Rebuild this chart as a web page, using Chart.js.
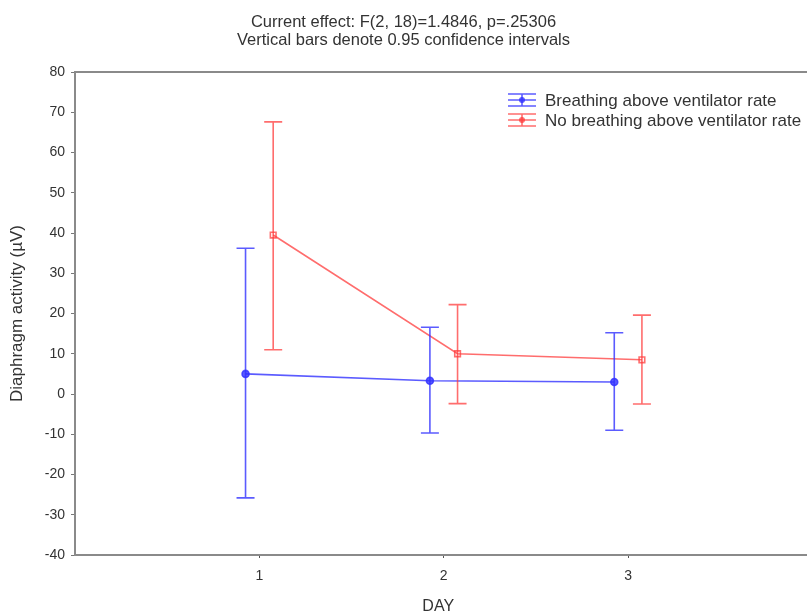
<!DOCTYPE html>
<html>
<head>
<meta charset="utf-8">
<script src="https://cdn.jsdelivr.net/npm/chart.js@4/dist/chart.umd.min.js"></script>
<style>
  html, body { margin: 0; padding: 0; background: #fff; overflow: hidden; }
</style>
</head>
<body>
<canvas id="effectChart" width="807" height="615"></canvas>
<script>
// ===============================
// Data
// ===============================
const days = [1, 2, 3];
const xTicks = [1, 2, 3];
const yTicks = [-40, -30, -20, -10, 0, 10, 20, 30, 40, 50, 60, 70, 80];

const breathingMean  = [5.0, 3.3, 3.0];
const breathingLower = [-25.8, -9.7, -9.0];
const breathingUpper = [36.2, 16.6, 15.2];

const noBreathingMean  = [39.5, 10.0, 8.5];
const noBreathingLower = [11.0, -2.4, -2.5];
const noBreathingUpper = [67.6, 22.2, 19.6];

const titleLines = ["Current effect: F(2, 18)=1.4846, p=.25306", "Vertical bars denote 0.95 confidence intervals"];

const BLUE = "rgba(50,50,255,0.8)";
const RED = "rgba(255,60,60,0.75)";
const FONT = "'Liberation Sans', Arial, sans-serif";

// little sideways shift so the two groups don't overlap
const shift = 0.075;

function points(means, dx) {
  return days.map((d, i) => ({ x: d + dx, y: means[i] }));
}

// ===============================
// Error bars + frame + legend
// ===============================
const errorBars = {
  id: "errorBars",
  beforeDatasetsDraw(chart) {
    // frame: top, left, bottom (right side is off the picture)
    const { ctx, chartArea: a } = chart;
    ctx.save();
    ctx.strokeStyle = "#8a8a8a";
    ctx.lineWidth = 2;
    ctx.beginPath();
    ctx.moveTo(chart.width, a.top);
    ctx.lineTo(a.left, a.top);
    ctx.lineTo(a.left, a.bottom);
    ctx.lineTo(chart.width, a.bottom);
    ctx.stroke();
    ctx.restore();
  },
  afterDatasetsDraw(chart) {
    const ctx = chart.ctx;
    const xs = chart.scales.x, ys = chart.scales.y;
    chart.data.datasets.forEach(ds => {
      ctx.save();
      ctx.strokeStyle = ds.borderColor;
      ctx.lineWidth = 1.6;
      ds.data.forEach((p, i) => {
        const px = xs.getPixelForValue(p.x);
        const top = ys.getPixelForValue(ds.upper[i]);
        const bot = ys.getPixelForValue(ds.lower[i]);
        ctx.beginPath();
        ctx.moveTo(px, top); ctx.lineTo(px, bot);
        ctx.moveTo(px - 9, top); ctx.lineTo(px + 9, top);
        ctx.moveTo(px - 9, bot); ctx.lineTo(px + 9, bot);
        ctx.stroke();
      });
      ctx.restore();
    });
  },
  afterDraw(chart) {
    const ctx = chart.ctx;
    const x0 = 508, y0 = 100, row = 20;
    chart.data.datasets.forEach((ds, k) => {
      const y = y0 + k * row;
      ctx.save();
      ctx.strokeStyle = ds.borderColor;
      ctx.fillStyle = ds.borderColor;
      ctx.lineWidth = 1.6;
      ctx.beginPath();
      ctx.moveTo(x0, y - 6); ctx.lineTo(x0 + 28, y - 6);
      ctx.moveTo(x0, y); ctx.lineTo(x0 + 28, y);
      ctx.moveTo(x0, y + 6); ctx.lineTo(x0 + 28, y + 6);
      ctx.moveTo(x0 + 14, y - 6); ctx.lineTo(x0 + 14, y + 6);
      ctx.stroke();
      ctx.beginPath();
      ctx.arc(x0 + 14, y, 3, 0, Math.PI * 2);
      ctx.fill();
      ctx.fillStyle = "#333";
      ctx.font = "17px " + FONT;
      ctx.textBaseline = "middle";
      ctx.fillText(ds.label, x0 + 37, y + 1);
      ctx.restore();
    });
  }
};

// ===============================
// Chart
// ===============================
new Chart(document.getElementById("effectChart"), {
  type: "line",
  data: {
    datasets: [{
      label: "Breathing above ventilator rate",
      data: points(breathingMean, -shift),
      lower: breathingLower,
      upper: breathingUpper,
      borderColor: BLUE,
      backgroundColor: BLUE,
      borderWidth: 1.6,
      pointStyle: "circle",
      pointRadius: 3.5,
      tension: 0
    }, {
      label: "No breathing above ventilator rate",
      data: points(noBreathingMean, shift),
      lower: noBreathingLower,
      upper: noBreathingUpper,
      borderColor: RED,
      backgroundColor: "rgba(255,255,255,0)",
      borderWidth: 1.6,
      pointStyle: "rect",
      pointRadius: 4,
      pointBorderWidth: 1.6,
      tension: 0
    }]
  },
  options: {
    responsive: false,
    animation: false,
    layout: { padding: 0 },
    plugins: {
      legend: { display: false },
      tooltip: { enabled: false },
      title: {
        display: true,
        text: titleLines,
        color: "#333",
        font: { family: FONT, size: 16.5, weight: "normal", lineHeight: 1.1 },
        padding: { top: 13, bottom: 22.7 }
      }
    },
    scales: {
      x: {
        type: "linear",
        min: 0,
        max: 3.94,
        afterBuildTicks: s => { s.ticks = xTicks.map(v => ({ value: v })); },
        afterFit: s => { s.height = 60; },
        grid: { drawOnChartArea: false, drawTicks: true, tickLength: 3, color: "#555" },
        border: { display: false },
        ticks: { color: "#333", padding: 10, font: { family: FONT, size: 14 } },
        title: { display: true, text: "DAY", color: "#333", font: { family: FONT, size: 16, lineHeight: 1 }, padding: { top: 0, bottom: 0 } }
      },
      y: {
        min: -40,
        max: 80,
        afterBuildTicks: s => { s.ticks = yTicks.map(v => ({ value: v })); },
        afterFit: s => { s.width = 75; },
        grid: { drawOnChartArea: false, drawTicks: true, tickLength: 4, color: "#777" },
        border: { display: false },
        ticks: { color: "#333", padding: 6, font: { family: FONT, size: 14 } },
        title: { display: true, text: "Diaphragm activity (µV)", color: "#333", font: { family: FONT, size: 17, lineHeight: 1 }, padding: { top: 9, bottom: 4 } }
      }
    }
  },
  plugins: [errorBars]
});
</script>
</body>
</html>
